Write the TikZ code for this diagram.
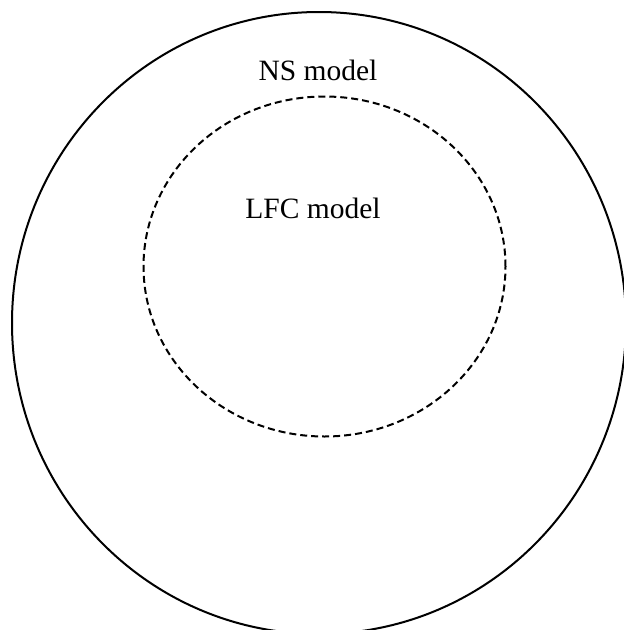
\documentclass[tikz,border=0pt]{standalone}
\usepackage{fontspec}
\setmainfont{Liberation Serif}
\usetikzlibrary{shapes.geometric}
\begin{document}
\begin{tikzpicture}[x=1pt,y=-1pt,
  outerline/.style={line width=2pt},
  innerline/.style={line width=2pt, dash pattern=on 7pt off 4pt},
  lbl/.style={font=\fontsize{29.5}{32}\selectfont, inner sep=0pt}]
\useasboundingbox (0,0) rectangle (624,630);
\clip (0,0) rectangle (624,630);
\fill[white] (0,0) rectangle (624,630);
\node[draw, outerline, ellipse, minimum width=614pt, minimum height=622pt, inner sep=0pt] (ns) at (319,323) {};
\node[draw, innerline, ellipse, minimum width=362pt, minimum height=340pt, inner sep=0pt] (lfc) at (324.5,266.5) {};
\node[lbl] (nslabel) at (318,70) {NS model};
\node[lbl] (lfclabel) at (313,208) {LFC model};
\end{tikzpicture}
\end{document}
